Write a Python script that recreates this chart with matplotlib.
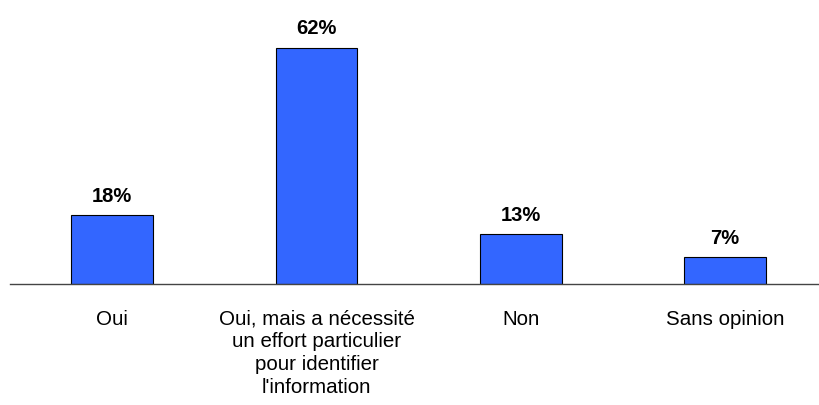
import matplotlib
matplotlib.use('Agg')
import matplotlib.pyplot as plt

categories = ['Oui',
              'Oui, mais a nécessité\nun effort particulier\npour identifier\nl\'information',
              'Non',
              'Sans opinion']
values = [18, 62, 13, 7]

plt.rcParams['font.family'] = ['Liberation Sans', 'DejaVu Sans']

fig = plt.figure(figsize=(8.19, 4.05), dpi=100)
ax = fig.add_axes([10 / 819, (405 - 284) / 405, 809 / 819, 267 / 405])

x = range(len(values))
ax.bar(x, values, width=0.40, color='#3366FF', edgecolor='black', linewidth=0.8)

for xi, v in zip(x, values):
    ax.annotate('%d%%' % v, (xi, v), xytext=(0, 7), textcoords='offset points',
                ha='center', va='bottom', fontsize=14.5, fontweight='bold')

ax.set_xlim(-0.5, 3.46)
ax.set_ylim(0, 70)
ax.set_yticks([])
ax.set_xticks(list(x))
ax.set_xticklabels(categories, fontsize=14.8, linespacing=1.25, va='top')
ax.tick_params(axis='x', length=0, pad=18.5)
for s in ['top', 'right', 'left']:
    ax.spines[s].set_visible(False)
ax.spines['bottom'].set_color('#444444')
ax.spines['bottom'].set_linewidth(1.0)

fig.savefig('out.png', dpi=100)
